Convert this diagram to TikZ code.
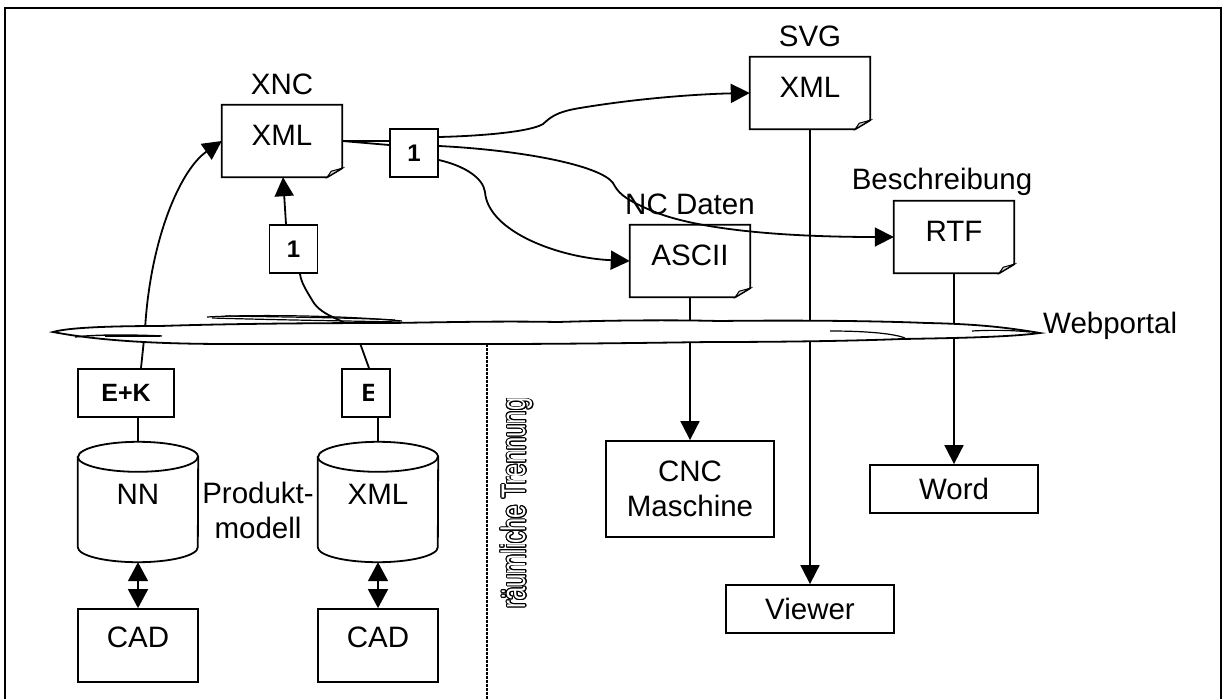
\documentclass[tikz,border=0pt]{standalone}
\usepackage{fontspec}
\setmainfont{Liberation Sans}
\usepackage{contour}
\contourlength{1.1pt}
\usetikzlibrary{arrows.meta}
\newcommand{\docshape}[1]{%
  \draw[line width=1.8pt, line join=miter] (#1.north west) -- (#1.north east) -- ([yshift=9pt]#1.south east) -- ([xshift=-15pt]#1.south east) -- (#1.south west) -- cycle;
  \draw[line width=1pt, fill=gray!35] ([yshift=9pt]#1.south east) -- ([xshift=-15pt]#1.south east) -- ([xshift=-11pt,yshift=6pt]#1.south east) -- cycle;}
\newcommand{\cylshape}[1]{%
  \draw[line width=1.8pt] ([yshift=-15pt]#1.north west) -- ([yshift=15pt]#1.south west) arc[start angle=180, end angle=360, x radius=60pt, y radius=15pt] -- ([yshift=-15pt]#1.north east) arc[start angle=0, end angle=180, x radius=60pt, y radius=15pt] -- cycle;
  \draw[line width=1.8pt] ([yshift=-15pt]#1.north west) arc[start angle=180, end angle=360, x radius=60pt, y radius=15pt];}
\begin{document}
\begin{tikzpicture}[x=1pt,y=-1pt,
  every node/.style={font=\fontsize{29.5}{35}\selectfont, inner sep=0pt},
  docnode/.style={minimum width=120pt, minimum height=72pt, text height=21pt, text depth=12pt},
  plainbox/.style={draw, line width=1.8pt, fill=white, align=center},
  tagbox/.style={draw, line width=1.8pt, fill=white, minimum height=48pt, font=\fontsize{25}{28}\selectfont\bfseries},
  arr/.style={line width=1.8pt, -{Triangle[length=19pt,width=19pt]}},
  dblarr/.style={line width=1.8pt, {Triangle[length=19pt,width=20pt]}-{Triangle[length=19pt,width=20pt]}},
  conn/.style={line width=1.8pt},
  cloudline/.style={line width=1.8pt},
]
\useasboundingbox (0,0) rectangle (1223,699);
% frame
\draw[line width=1.5pt] (5,699) -- (5,8) -- (1221,8) -- (1221,699);

% document nodes
\node[docnode] (xnc) at (282,141) {XML};
\node[docnode] (svg) at (810,93) {XML};
\node[docnode] (ascii) at (690,261) {ASCII};
\node[docnode] (rtf) at (954,237) {RTF};
\docshape{xnc}\docshape{svg}\docshape{ascii}\docshape{rtf}

% labels
\node (lxnc) at (282,84) {XNC};
\node (lsvg) at (810,36) {SVG};
\node (lnc) at (690,204) {NC Daten};
\node (lbes) at (942,182) {Beschreibung};
\node[anchor=west] (lweb) at (1043,326) {Webportal};

% boxes
\node[plainbox, minimum width=168pt, minimum height=96pt] (cnc) at (690,489) {CNC\\Maschine};
\node[plainbox, minimum width=168pt, minimum height=48pt] (word) at (954,489) {Word};
\node[plainbox, minimum width=168pt, minimum height=48pt] (viewer) at (810,609) {Viewer};
\node[plainbox, minimum width=120pt, minimum height=73pt, text height=21pt, text depth=17pt] (cad1) at (138,645.5) {CAD};
\node[plainbox, minimum width=120pt, minimum height=73pt, text height=21pt, text depth=17pt] (cad2) at (378,645.5) {CAD};

% tag boxes
\node[tagbox, minimum width=96pt] (ek) at (126,393) {E+K};
\node[tagbox, minimum width=48pt] (e) at (366,393) {};
\begin{scope}
  \clip (342,369) rectangle (373,417);
  \node[font=\fontsize{25}{28}\selectfont\bfseries] (etext) at (370,393) {E};
\end{scope}
\node[tagbox, minimum width=48pt, font=\fontsize{24}{26}\selectfont\bfseries] (one1) at (414,153) {1};
\node[tagbox, minimum width=48pt, font=\fontsize{24}{26}\selectfont\bfseries] (one1b) at (293.5,249) {1};

% cylinders
\node[minimum width=120pt, minimum height=120pt, text height=21pt, text depth=16pt] (nn) at (138,502) {NN};
\node[minimum width=120pt, minimum height=120pt, text height=21pt, text depth=16pt] (xmlc) at (378,502) {XML};
\cylshape{nn}\cylshape{xmlc}
\node[align=center] (prod) at (258,510) {Produkt-\\modell};

% connectors
\draw[dblarr] (nn.south) -- (cad1.north);
\draw[dblarr] (xmlc.south) -- (cad2.north);
\draw[conn] (nn.north |- ek.south) -- (nn.north);
\draw[conn] (xmlc.north |- e.south) -- (xmlc.north);
\draw[arr] ([xshift=15pt]ek.north) -- (145,330) .. controls (150,240) and (180,170) .. (xnc.west);
\draw[conn] ([xshift=3pt]e.north) -- (356,332) .. controls (345,318) and (322,318) .. (312,300) .. controls (306,290) and (301,282) .. ([xshift=6.5pt]one1b.south);
\draw[arr] ([xshift=-7.5pt]one1b.north) -- ([xshift=1pt]xnc.south);
\draw[conn] (xnc.east) -- ([yshift=12pt]one1.west);
\draw[conn] (xnc.east) -- ([yshift=8pt]one1.west);
\draw[arr] ([yshift=16pt]one1.east) .. controls (480,136) and (530,132) .. (543,124) .. controls (550,118) and (555,112) .. (580,108) .. controls (640,98) and (700,94) .. (svg.west);
\draw[arr] ([yshift=7pt]one1.east) .. controls (520,150) and (600,165) .. (613,183) .. controls (618,192) and (622,198) .. (650,210) .. controls (700,232) and (800,237) .. (rtf.west);
\draw[arr] ([yshift=-7pt]one1.east) .. controls (465,166) and (483,178) .. (485,192) .. controls (488,232) and (560,258) .. (ascii.west);
\draw[arr] (ascii.south) -- (cnc.north);
\draw[arr] (svg.south) -- (viewer.north);
\draw[arr] (rtf.south) -- (word.north);

% cloud (Webportal)
\draw[cloudline, fill=white]
  (53,332) .. controls (70,327) and (120,326) .. (160,326)
  .. controls (220,324) and (300,323) .. (390,323)
  .. controls (460,322) and (500,321) .. (558,322)
  .. controls (620,320) and (680,320) .. (719,321)
  .. controls (800,320) and (880,321) .. (927,323)
  .. controls (980,324) and (1010,328) .. (1040,333)
  .. controls (1010,337) and (960,338) .. (902,339)
  .. controls (850,341) and (780,342) .. (710,342)
  .. controls (640,343) and (560,344) .. (490,344)
  .. controls (400,344) and (300,344) .. (230,344)
  .. controls (160,344) and (100,341) .. (53,332) -- cycle;
\draw[line width=1.4pt] (75,337) .. controls (100,334) and (140,335) .. (162,336);
\draw[line width=2.4pt] (105,336) -- (160,336);
\draw[line width=1.2pt] (830,331) .. controls (870,331) and (895,334) .. (905,338);
\draw[line width=1.2pt] (972,331) .. controls (990,330) and (1010,330) .. (1030,332);
\draw[line width=1.2pt] (207,317) .. controls (260,314) and (350,316) .. (402,321);
\draw[line width=1.2pt] (212,318) .. controls (280,320) and (350,321) .. (400,322);
\draw[line width=1.2pt] (225,316) .. controls (290,317) and (360,318) .. (395,320);

% separation line
\coordinate (dtop) at (487,344);
\coordinate (dbot) at (487,699);
\draw[line width=2.6pt, dash pattern=on 3pt off 1pt] (dtop) -- (dbot);
\node[rotate=90] (trenn) at (517,503) {\scalebox{0.7}[1]{\fontsize{34}{38}\selectfont\contour{black}{\textcolor{white}{räumliche Trennung}}}};
\end{tikzpicture}
\end{document}
